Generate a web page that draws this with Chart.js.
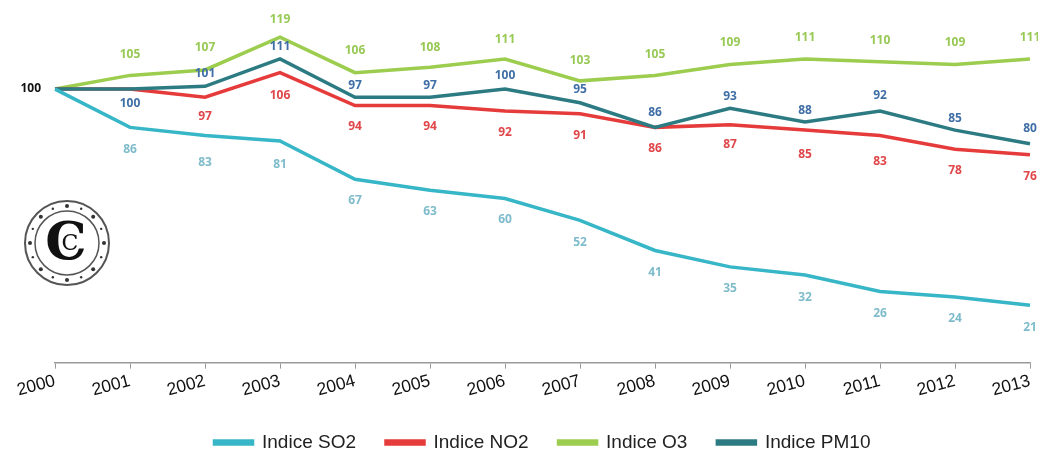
<!DOCTYPE html>
<html>
<head>
<meta charset="utf-8">
<script src="https://cdn.jsdelivr.net/npm/chart.js@4.4.1/dist/chart.umd.min.js"></script>
<style>
  html, body { margin: 0; padding: 0; background: #fff; }
  #wrap { width: 1038px; height: 454px; position: relative; }
</style>
</head>
<body>
<div id="wrap"><canvas id="indicesChart"></canvas></div>
<script>
/* ==========================================================================
   DATA
   ========================================================================== */
const years = ["2000", "2001", "2002", "2003", "2004", "2005", "2006",
               "2007", "2008", "2009", "2010", "2011", "2012", "2013"];

const so2Values  = [100, 86, 83, 81, 67, 63, 60, 52, 41, 35, 32, 26, 24, 21];
const no2Values  = [100, 100, 97, 106, 94, 94, 92, 91, 86, 87, 85, 83, 78, 76];
const o3Values   = [100, 105, 107, 119, 106, 108, 111, 103, 105, 109, 111, 110, 109, 111];
const pm10Values = [100, 100, 101, 111, 97, 97, 100, 95, 86, 93, 88, 92, 85, 80];

const seriesNames = ["Indice SO2", "Indice NO2", "Indice O3", "Indice PM10"];

/* ==========================================================================
   STYLE
   ========================================================================== */
const lineColors  = ["#36b6c6", "#e63b3b", "#9ccd4f", "#2c7b82"];
const labelColors = ["#7fbccb", "#e0474a", "#98c955", "#3f6fa6"];
// vertical offset of each value label (px), null = no label
const labelOffsets = [
    [null, 22, 27, 24, 21, 21, 21, 22, 22, 22, 22, 22, 22, 22],
    [null, null, 19, 23, 21, 21, 22, 22, 21, 20, 24, 26, 21, 22],
    [null, -21, -22, -18, -22, -20, -19, -20, -21, -22, -21, -21, -22, -21],
    [null, 15, -13, -12, -12, -12, -13, -13, -15, -12, -11, -15, -12, -15]
];

/* ==========================================================================
   PLUGINS
   ========================================================================== */
const valueLabels = {
    id: "valueLabels",
    afterDatasetsDraw(chart) {
        const ctx = chart.ctx;
        ctx.save();
        ctx.font = "bold 12px 'Open Sans', sans-serif";
        ctx.textAlign = "center";
        ctx.textBaseline = "middle";
        chart.data.datasets.forEach((ds, i) => {
            const meta = chart.getDatasetMeta(i);
            meta.data.forEach((pt, j) => {
                const off = labelOffsets[i][j];
                if (off === null) return;
                ctx.fillStyle = labelColors[i];
                ctx.fillText(String(ds.data[j]), pt.x, pt.y + off);
            });
        });
        // common base value, written left of the first point
        const p0 = chart.getDatasetMeta(0).data[0];
        ctx.fillStyle = "#111";
        ctx.textAlign = "right";
        ctx.fillText(String(so2Values[0]), p0.x - 14, p0.y);
        ctx.restore();
    }
};

// small copyright seal drawn in the empty lower-left corner
const sealMark = {
    id: "sealMark",
    afterDraw(chart) {
        const ctx = chart.ctx;
        const cx = 67, cy = 243;
        ctx.save();
        ctx.strokeStyle = "#555";
        ctx.lineWidth = 2;
        ctx.beginPath(); ctx.arc(cx, cy, 42, 0, Math.PI * 2); ctx.stroke();
        ctx.lineWidth = 1.5;
        ctx.beginPath(); ctx.arc(cx, cy, 32, 0, Math.PI * 2); ctx.stroke();
        ctx.fillStyle = "#333";
        for (let k = 0; k < 16; k++) {
            const a = k * Math.PI / 8;
            ctx.beginPath();
            ctx.arc(cx + 37 * Math.cos(a), cy + 37 * Math.sin(a), k % 2 ? 1.2 : 2, 0, Math.PI * 2);
            ctx.fill();
        }
        ctx.fillStyle = "#111";
        ctx.textAlign = "center";
        ctx.textBaseline = "middle";
        ctx.font = "bold 52px 'DejaVu Serif', serif";
        ctx.fillText("C", cx - 1, cy + 2);
        ctx.font = "22px 'DejaVu Serif', serif";
        ctx.fillText("C", cx + 3, cy + 1);
        ctx.restore();
    }
};

/* ==========================================================================
   CHART
   ========================================================================== */
const datasets = [so2Values, no2Values, o3Values, pm10Values].map((vals, i) => ({
    label: seriesNames[i],
    data: vals,
    borderColor: lineColors[i],
    backgroundColor: lineColors[i],
    borderWidth: 3.5,
    pointRadius: 0,
    tension: 0,
    fill: false
}));
// draw order: green and teal above red, cyan last
datasets[0].order = 1;
datasets[1].order = 3;
datasets[2].order = 4;
datasets[3].order = 2;

const ctx = document.getElementById("indicesChart").getContext("2d");
new Chart(ctx, {
    type: "line",
    data: { labels: years, datasets: datasets },
    options: {
        responsive: true,
        maintainAspectRatio: false,
        animation: false,
        layout: { padding: { left: 55, right: 8, top: 7, bottom: -8 } },
        plugins: {
            tooltip: { enabled: false },
            legend: {
                position: "bottom",
                labels: {
                    color: "#222",
                    font: { family: "'Liberation Sans', Arial, sans-serif", size: 19 },
                    boxWidth: 38,
                    boxHeight: 3,
                    padding: 30,
                    sort: (a, b) => a.datasetIndex - b.datasetIndex
                }
            }
        },
        scales: {
            x: {
                grid: { drawOnChartArea: false, drawTicks: true, tickLength: 6, color: "#9a9a9a" },
                border: { color: "#9a9a9a", width: 1.5 },
                ticks: {
                    color: "#111",
                    font: { family: "'Liberation Sans', Arial, sans-serif", size: 17.5 },
                    minRotation: 15,
                    maxRotation: 15,
                    padding: 2
                }
            },
            y: { display: false, min: 0, max: 130 }
        }
    },
    plugins: [valueLabels, sealMark]
});
</script>
</body>
</html>
